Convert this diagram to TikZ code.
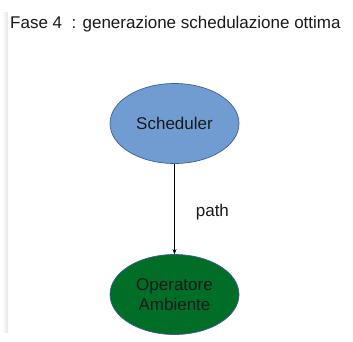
\documentclass[tikz,border=0pt]{standalone}
\usepackage{fontspec}
\setmainfont{Liberation Sans}
\usetikzlibrary{shapes.geometric,arrows.meta}
\definecolor{schedblue}{RGB}{112,156,210}
\definecolor{opgreen}{RGB}{0,110,38}
\definecolor{rimblue}{RGB}{60,95,150}
\tikzset{
  blob/.style={ellipse, draw=rimblue, line width=0.7pt, minimum width=129pt,
    minimum height=80pt, inner sep=0pt, align=center,
    font=\fontsize{17}{19.5}\selectfont, text=black!90},
  lbl/.style={font=\fontsize{17}{19.5}\selectfont, text=black!90, inner sep=0pt},
  link/.style={draw=black, line width=0.7pt, -{Stealth[length=5pt,width=4pt]}}
}
\begin{document}
\begin{tikzpicture}[x=1pt,y=-1pt]
  \useasboundingbox (0,0) rectangle (353,341);
  % faint page edge on the left
  \shade[left color=white, right color=black!10] (2,12) rectangle (8,332);
  \node[lbl, anchor=base west] (title) at (10,28) {Fase 4~~: generazione schedulazione ottima};
  \node[blob, fill=schedblue] (sched) at (174.5,123.5) {Scheduler};
  \node[blob, fill=opgreen] (oper) at (174.5,294.5) {Operatore\\Ambiente};
  \draw[link] (sched) -- (oper) node[lbl, pos=0.5, anchor=west, xshift=21pt, yshift=-3pt] (lab) {path};
\end{tikzpicture}
\end{document}
